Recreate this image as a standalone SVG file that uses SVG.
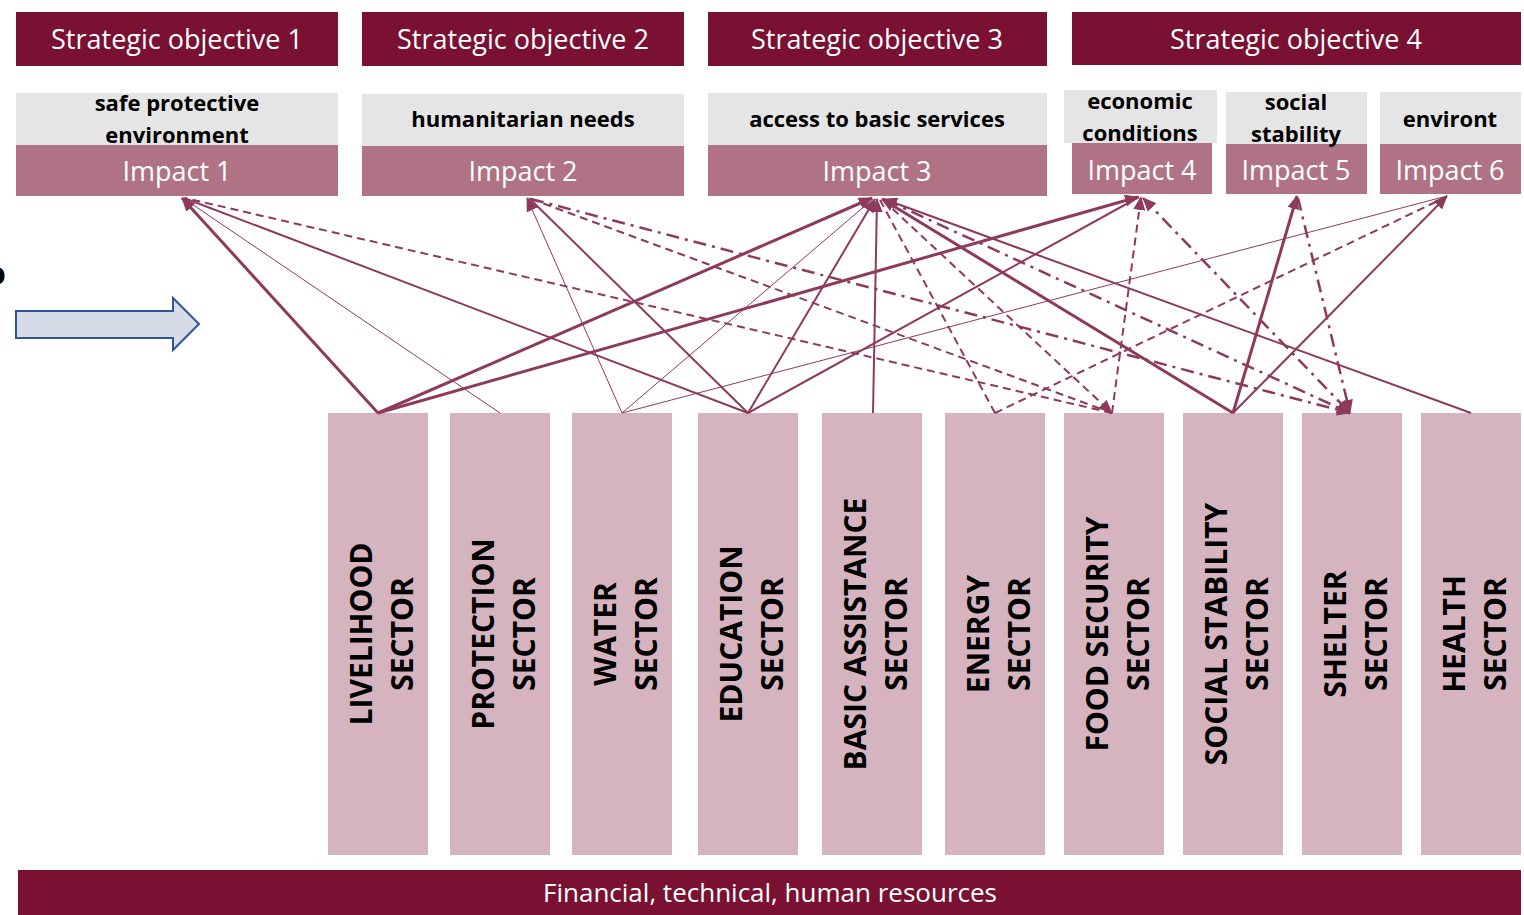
<svg xmlns="http://www.w3.org/2000/svg" width="1524" height="915" viewBox="0 0 1524 915">
<defs>
<style>
.so{fill:#7a1133}
.sot{fill:#fff;font-family:"Open Sans","Liberation Sans",sans-serif;font-size:27px;text-anchor:middle}
.bot{fill:#fff;font-family:"Open Sans","Liberation Sans",sans-serif;font-size:26px;text-anchor:middle}
.lab{fill:#e5e5e5}
.labt{fill:#000;font-family:"Open Sans","Liberation Sans",sans-serif;font-size:22px;font-weight:bold;text-anchor:middle}
.imp{fill:#b07385}
.impt{fill:#fff;font-family:"Open Sans","Liberation Sans",sans-serif;font-size:27px;text-anchor:middle}
.sec{fill:#d5b3bf}
.sect{fill:#000;font-family:"Open Sans","Liberation Sans",sans-serif;font-size:30px;font-weight:bold;text-anchor:middle}
.c{fill:none;stroke:#8e3a5c}
.w1{stroke-width:1}
.w2{stroke-width:2}
.w3{stroke-width:3}
.d{stroke-width:2;stroke-dasharray:8 5}
.dd{stroke-width:2.5;stroke-dasharray:13 6 3 6}
</style>
<marker id="ah" markerUnits="userSpaceOnUse" markerWidth="14" markerHeight="12" refX="13" refY="6" orient="auto">
<path d="M0,0 L14,6 L0,12 Z" fill="#8e3a5c"/>
</marker>
<marker id="as" markerUnits="userSpaceOnUse" markerWidth="14" markerHeight="12" refX="1" refY="6" orient="auto">
<path d="M14,0 L0,6 L14,12 Z" fill="#8e3a5c"/>
</marker>
</defs>
<rect width="1524" height="915" fill="#fff"/>

<text x="-15" y="285" font-family="Liberation Sans, sans-serif" font-size="34" font-weight="bold" fill="#000">o</text>

<g id="so1"><rect class="so" x="16" y="12" width="322" height="54"/><text class="sot" x="177" y="49">Strategic objective 1</text></g>
<g id="so2"><rect class="so" x="362" y="12" width="322" height="54"/><text class="sot" x="523" y="49">Strategic objective 2</text></g>
<g id="so3"><rect class="so" x="708" y="12" width="339" height="54"/><text class="sot" x="877" y="49">Strategic objective 3</text></g>
<g id="so4"><rect class="so" x="1072" y="12" width="449" height="53"/><text class="sot" x="1296" y="49">Strategic objective 4</text></g>

<g id="impact1"><rect class="lab" x="16" y="93" width="322" height="52"/><text class="labt" x="177" y="111">safe protective</text><text class="labt" x="177" y="143">environment</text><rect class="imp" x="16" y="145" width="322" height="51"/><text class="impt" x="177" y="181">Impact 1</text></g>
<g id="impact2"><rect class="lab" x="362" y="94" width="322" height="52"/><text class="labt" x="523" y="127">humanitarian needs</text><rect class="imp" x="362" y="146" width="322" height="50"/><text class="impt" x="523" y="181">Impact 2</text></g>
<g id="impact3"><rect class="lab" x="708" y="93" width="339" height="52"/><text class="labt" x="877" y="127">access to basic services</text><rect class="imp" x="708" y="145" width="339" height="51"/><text class="impt" x="877" y="181">Impact 3</text></g>
<g id="impact4"><rect class="lab" x="1064" y="90" width="153" height="53"/><text class="labt" x="1140" y="109">economic</text><text class="labt" x="1140" y="141">conditions</text><rect class="imp" x="1072" y="143" width="140" height="51"/><text class="impt" x="1142" y="180">Impact 4</text></g>
<g id="impact5"><rect class="lab" x="1226" y="92" width="141" height="52"/><rect class="imp" x="1226" y="144" width="141" height="50"/><text class="labt" x="1296" y="110">social</text><text class="labt" x="1296" y="142">stability</text><text class="impt" x="1296" y="180">Impact 5</text></g>
<g id="impact6"><rect class="lab" x="1380" y="92" width="141" height="52"/><text class="labt" x="1450" y="127">environt</text><rect class="imp" x="1380" y="144" width="141" height="50"/><text class="impt" x="1450" y="180">Impact 6</text></g>

<g id="input-arrow"><path d="M16,311 H173 V298 L199,324 L173,350 V338 H16 Z" fill="#d6dce5" stroke="#2f5597" stroke-width="2"/></g>

<g id="sector-livelihood"><rect class="sec" x="328" y="413" width="100" height="442"/><text class="sect" transform="translate(372,634) rotate(-90)">LIVELIHOOD</text><text class="sect" transform="translate(413,634) rotate(-90)">SECTOR</text></g>
<g id="sector-protection"><rect class="sec" x="450" y="413" width="100" height="442"/><text class="sect" transform="translate(494,634) rotate(-90)">PROTECTION</text><text class="sect" transform="translate(535,634) rotate(-90)">SECTOR</text></g>
<g id="sector-water"><rect class="sec" x="572" y="413" width="100" height="442"/><text class="sect" transform="translate(616,634) rotate(-90)">WATER</text><text class="sect" transform="translate(657,634) rotate(-90)">SECTOR</text></g>
<g id="sector-education"><rect class="sec" x="698" y="413" width="100" height="442"/><text class="sect" transform="translate(742,634) rotate(-90)">EDUCATION</text><text class="sect" transform="translate(783,634) rotate(-90)">SECTOR</text></g>
<g id="sector-basic"><rect class="sec" x="822" y="413" width="100" height="442"/><text class="sect" transform="translate(866,634) rotate(-90)">BASIC ASSISTANCE</text><text class="sect" transform="translate(907,634) rotate(-90)">SECTOR</text></g>
<g id="sector-energy"><rect class="sec" x="945" y="413" width="100" height="442"/><text class="sect" transform="translate(989,634) rotate(-90)">ENERGY</text><text class="sect" transform="translate(1030,634) rotate(-90)">SECTOR</text></g>
<g id="sector-food"><rect class="sec" x="1064" y="413" width="100" height="442"/><text class="sect" transform="translate(1108,634) rotate(-90)">FOOD SECURITY</text><text class="sect" transform="translate(1149,634) rotate(-90)">SECTOR</text></g>
<g id="sector-social"><rect class="sec" x="1183" y="413" width="100" height="442"/><text class="sect" transform="translate(1227,634) rotate(-90)">SOCIAL STABILITY</text><text class="sect" transform="translate(1268,634) rotate(-90)">SECTOR</text></g>
<g id="sector-shelter"><rect class="sec" x="1302" y="413" width="100" height="442"/><text class="sect" transform="translate(1346,634) rotate(-90)">SHELTER</text><text class="sect" transform="translate(1387,634) rotate(-90)">SECTOR</text></g>
<g id="sector-health"><rect class="sec" x="1421" y="413" width="100" height="442"/><text class="sect" transform="translate(1465,634) rotate(-90)">HEALTH</text><text class="sect" transform="translate(1506,634) rotate(-90)">SECTOR</text></g>

<g id="resources"><rect class="so" x="18" y="870" width="1503" height="45"/><text class="bot" x="770" y="902">Financial, technical, human resources</text></g>

<g id="connectors">
<line class="c w3" x1="378" y1="413" x2="182" y2="198" marker-end="url(#ah)"/>
<line class="c w1" x1="500" y1="413" x2="183" y2="198"/>
<line class="c w2" x1="748" y1="413" x2="184" y2="198"/>
<line class="c d" x1="1112" y1="413" x2="185" y2="198"/>
<line class="c w1" x1="622" y1="413" x2="527" y2="198" marker-end="url(#ah)"/>
<line class="c w2" x1="748" y1="413" x2="529" y2="198"/>
<line class="c d" x1="1112" y1="413" x2="531" y2="199"/>
<line class="c w3" x1="378" y1="413" x2="872" y2="198" marker-end="url(#ah)"/>
<line class="c w1" x1="622" y1="413" x2="873" y2="199"/>
<line class="c w2" x1="748" y1="413" x2="875" y2="199" marker-end="url(#ah)"/>
<line class="c w2" x1="873" y1="413" x2="877" y2="199" marker-end="url(#ah)"/>
<line class="c w3" x1="1233" y1="413" x2="882" y2="199" marker-end="url(#ah)"/>
<line class="c w2" x1="1471" y1="413" x2="884" y2="199" marker-end="url(#ah)"/>
<line class="c d" x1="995" y1="413" x2="880" y2="200"/>
<line class="c d" x1="883" y1="200" x2="1112" y2="413" marker-end="url(#ah)"/>
<line class="c w3" x1="378" y1="413" x2="1138" y2="197" marker-end="url(#ah)"/>
<line class="c w2" x1="748" y1="413" x2="1139" y2="197"/>
<line class="c d" x1="1112" y1="413" x2="1141" y2="197" marker-end="url(#ah)"/>
<line class="c w3" x1="1233" y1="413" x2="1297" y2="196" marker-end="url(#ah)"/>
<line class="c w2" x1="1233" y1="413" x2="1447" y2="196" marker-end="url(#ah)"/>
<line class="c w1" x1="622" y1="413" x2="1447" y2="196"/>
<line class="c d" x1="995" y1="413" x2="1446" y2="197"/>
<line class="c dd" x1="531" y1="199" x2="1350" y2="413" marker-end="url(#ah)"/>
<line class="c dd" x1="886" y1="200" x2="1350" y2="413" marker-end="url(#ah)"/>
<line class="c dd" x1="1143" y1="198" x2="1350" y2="413" marker-start="url(#as)" marker-end="url(#ah)"/>
<line class="c dd" x1="1298" y1="198" x2="1350" y2="413" marker-end="url(#ah)"/>
</g>
</svg>
